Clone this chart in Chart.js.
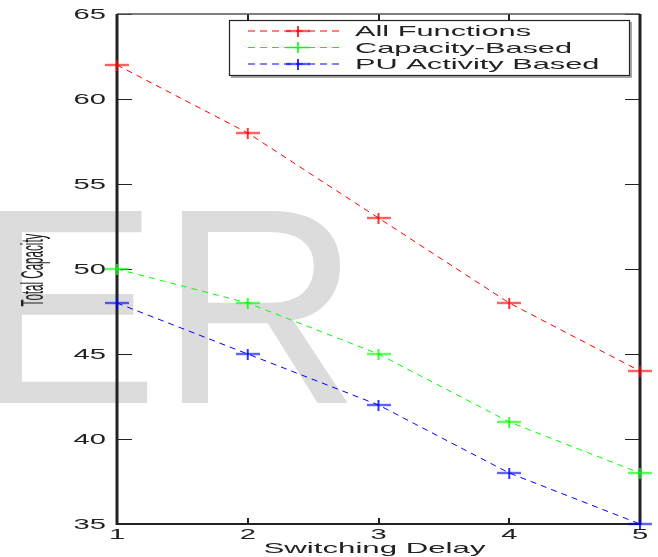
<!DOCTYPE html>
<html>
<head>
<meta charset="utf-8">
<script src="https://cdn.jsdelivr.net/npm/chart.js@4.4.1/dist/chart.umd.min.js"></script>
<style>
  html, body { margin: 0; padding: 0; background: #fff; }
  #grafico { display: block; }
</style>
</head>
<body>
<canvas id="grafico" width="658" height="557"></canvas>
<script>
// datos
const retardos = ['1', '2', '3', '4', '5'];
const todasFunciones = [62, 58, 53, 48, 44];
const basadoCapacidad = [50, 48, 45, 41, 38];
const basadoActividadPU = [48, 45, 42, 38, 35];
const nombresSeries = ['All Functions', 'Capacity-Based', 'PU Activity Based'];
const coloresSeries = ['#ff0000', '#00ff00', '#0000ff'];
const ticksY = [35, 40, 45, 50, 55, 60, 65];
const tituloX = 'Switching Delay';
const tituloY = 'Total Capacity';
const marcaAgua = 'ER';

const FUENTE = '"Liberation Sans", Arial, sans-serif';
const ESTIRAR = 2.08; // la figura original esta estirada en horizontal

// marcador "+" ancho y bajo
function crearCruz(color) {
    const c = document.createElement('canvas');
    c.width = 24;
    c.height = 11;
    const g = c.getContext('2d');
    g.strokeStyle = color;
    g.lineWidth = 1.6;
    g.beginPath();
    g.moveTo(0, 5.5); g.lineTo(24, 5.5);
    g.moveTo(12, 0); g.lineTo(12, 11);
    g.stroke();
    return c;
}
const cruces = coloresSeries.map(crearCruz);

function textoEstirado(ctx, texto, x, y, align, baseline, size, escala) {
    ctx.save();
    ctx.translate(x, y);
    ctx.scale(escala, 1);
    ctx.font = size + 'px ' + FUENTE;
    ctx.textAlign = align;
    ctx.textBaseline = baseline;
    ctx.fillText(texto, 0, 0);
    ctx.restore();
}

const pluginFondo = {
    id: 'fondo',
    beforeDraw(chart) {
        const ctx = chart.ctx;
        ctx.save();
        ctx.fillStyle = '#fff';
        ctx.fillRect(0, 0, chart.width, chart.height);
        ctx.fillStyle = '#dcdcdc';
        ctx.font = '279px ' + FUENTE;
        ctx.textBaseline = 'alphabetic';
        ctx.textAlign = 'left';
        ctx.fillText(marcaAgua, -27, 403);
        ctx.restore();
    }
};

const pluginEjes = {
    id: 'ejes',
    beforeDatasetsDraw(chart) {
        const ctx = chart.ctx;
        const a = chart.chartArea;
        const x = chart.scales.x;
        const y = chart.scales.y;
        ctx.save();
        ctx.strokeStyle = '#222';

        // marcas interiores
        ctx.lineWidth = 1.2;
        ticksY.forEach(v => {
            const py = Math.round(y.getPixelForValue(v)) + 0.5;
            ctx.beginPath();
            ctx.moveTo(a.left, py); ctx.lineTo(a.left + 15, py);
            ctx.moveTo(a.right, py); ctx.lineTo(a.right - 15, py);
            ctx.stroke();
        });
        ctx.lineWidth = 2;
        retardos.forEach((r, i) => {
            const px = Math.round(x.getPixelForTick(i));
            ctx.beginPath();
            ctx.moveTo(px, a.bottom); ctx.lineTo(px, a.bottom - 6);
            ctx.moveTo(px, a.top); ctx.lineTo(px, a.top + 6);
            ctx.stroke();
        });

        // marco
        ctx.lineWidth = 1.5;
        ctx.strokeStyle = '#555';
        ctx.beginPath();
        ctx.moveTo(a.left, a.top); ctx.lineTo(a.right, a.top);
        ctx.stroke();
        ctx.strokeStyle = '#222';
        ctx.lineWidth = 2;
        ctx.beginPath();
        ctx.moveTo(a.left, a.bottom); ctx.lineTo(a.right, a.bottom);
        ctx.stroke();
        ctx.lineWidth = 3;
        ctx.beginPath();
        ctx.moveTo(a.left, a.top); ctx.lineTo(a.left, a.bottom + 1);
        ctx.moveTo(a.right, a.top); ctx.lineTo(a.right, a.bottom + 1);
        ctx.stroke();

        // etiquetas
        ctx.fillStyle = '#222';
        ticksY.forEach(v => {
            textoEstirado(ctx, String(v), a.left - 11, y.getPixelForValue(v) + 1, 'right', 'middle', 14, ESTIRAR);
        });
        retardos.forEach((r, i) => {
            textoEstirado(ctx, r, x.getPixelForTick(i), a.bottom + 11, 'center', 'middle', 14, ESTIRAR);
        });
        textoEstirado(ctx, tituloX, (a.left + a.right) / 2 - 4, a.bottom + 29, 'center', 'alphabetic', 15, ESTIRAR);

        // titulo Y: girado y estirado
        ctx.save();
        ctx.translate(34, 270);
        ctx.scale(2.75, 1);
        ctx.rotate(-Math.PI / 2);
        ctx.font = '11.6px ' + FUENTE;
        ctx.textAlign = 'center';
        ctx.textBaseline = 'middle';
        ctx.fillText(tituloY, 0, 0);
        ctx.restore();

        ctx.restore();
    },
    afterDatasetsDraw(chart) {
        // leyenda
        const ctx = chart.ctx;
        const caja = { x: 229, y: 20, w: 400, h: 55 };
        ctx.save();
        ctx.fillStyle = '#fff';
        ctx.fillRect(caja.x, caja.y, caja.w, caja.h);
        ctx.strokeStyle = '#222';
        ctx.lineWidth = 1.2;
        ctx.strokeRect(caja.x + 0.5, caja.y + 0.5, caja.w, caja.h);
        ctx.strokeStyle = '#888';
        ctx.lineWidth = 1.5;
        ctx.beginPath();
        ctx.moveTo(caja.x + caja.w + 2, caja.y + 2);
        ctx.lineTo(caja.x + caja.w + 2, caja.y + caja.h + 2);
        ctx.lineTo(caja.x + 2, caja.y + caja.h + 2);
        ctx.stroke();

        const filas = [31, 47.5, 64];
        nombresSeries.forEach((nombre, i) => {
            const fy = filas[i];
            ctx.strokeStyle = coloresSeries[i];
            ctx.lineWidth = 1;
            ctx.setLineDash([7, 5]);
            ctx.beginPath();
            ctx.moveTo(248, fy); ctx.lineTo(344, fy);
            ctx.stroke();
            ctx.setLineDash([]);
            ctx.drawImage(cruces[i], 298 - 12, fy - 5.5);
            ctx.fillStyle = '#222';
            textoEstirado(ctx, nombre, 355, fy + 1, 'left', 'middle', 15, 2.05);
        });
        ctx.restore();
    }
};

const series = [todasFunciones, basadoCapacidad, basadoActividadPU];

new Chart(document.getElementById('grafico'), {
    type: 'line',
    data: {
        labels: retardos,
        datasets: series.map((valores, i) => ({
            label: nombresSeries[i],
            data: valores,
            borderColor: coloresSeries[i],
            borderWidth: 1,
            borderDash: [6, 5],
            tension: 0,
            fill: false,
            pointStyle: cruces[i],
            pointRadius: 6,
            clip: false
        }))
    },
    options: {
        responsive: false,
        animation: false,
        layout: {
            padding: { left: 117, right: 18, top: 14, bottom: 33 }
        },
        scales: {
            x: {
                type: 'category',
                offset: false,
                display: false
            },
            y: {
                type: 'linear',
                min: 35,
                max: 65,
                display: false
            }
        },
        plugins: {
            legend: { display: false },
            tooltip: { enabled: false }
        }
    },
    plugins: [pluginFondo, pluginEjes]
});
</script>
</body>
</html>
